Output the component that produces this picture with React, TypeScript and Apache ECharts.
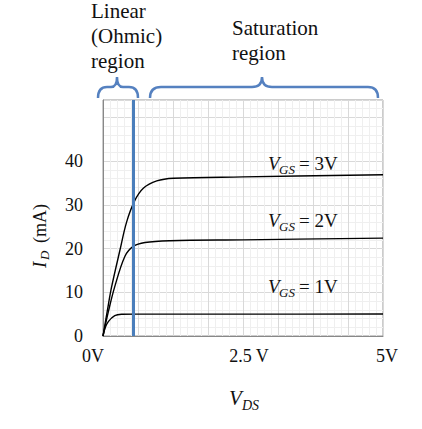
import React, { useEffect, useRef } from "react";
import * as echarts from "echarts";

// Drain current I_D (mA) vs V_DS (V) for three gate voltages
const vds3 = [0, 0.08, 0.15, 0.3, 0.42, 0.56, 0.72, 0.96, 1.26, 2.5, 5];
const id3 = [0, 6, 11, 19.5, 26, 30.8, 33.8, 35.5, 36.1, 36.4, 36.9];

const vds2 = [0, 0.1, 0.21, 0.39, 0.54, 0.75, 1.2, 2.5, 5];
const id2 = [0, 5.8, 11.3, 18.2, 20.5, 21.4, 21.8, 22.0, 22.4];

const vds1 = [0, 0.036, 0.095, 0.21, 0.33, 0.6, 2.5, 5];
const id1 = [0, 1.8, 3.3, 4.65, 4.97, 5.0, 5.0, 5.05];

const boundaryVds = 0.54; // linear / saturation boundary (blue line)

const xTickValues = [0, 2.5, 5];
const xTickLabels = ["0V", "2.5 V", "5V"];
const yTickLabels = [0, 10, 20, 30, 40];

const curveLabels = [
  { sub: "GS", rest: "= 3V", y: 170 },
  { sub: "GS", rest: "= 2V", y: 227 },
  { sub: "GS", rest: "= 1V", y: 293 },
];

const braceD =
  "M98 98 Q98 87 107 87 L111 87 Q117 87 117 77 Q117 87 123 87 L129 87 Q138 87 138 98 " +
  "M150 98 Q150 87 161 87 L252 87 Q262 87 262 77 Q262 87 272 87 L368 87 Q378 87 378 98";

echarts.graphic.registerShape("braces", echarts.graphic.extendPath(braceD, {}) as any);

const FONT = "'Liberation Serif', 'Times New Roman', serif";

function zip(xs: number[], ys: number[]) {
  return xs.map((x, i) => [x, ys[i]]);
}

export default function App() {
  const ref = useRef<HTMLDivElement>(null);
  useEffect(() => {
    if (!ref.current) return;
    const chart = echarts.init(ref.current, undefined, { renderer: "svg" });

    const mid = (baseline: number, fs: number) => baseline - 0.34 * fs;
    const txt = (x: number, y: number, text: string, size: number, italic: boolean) => ({
      type: "text",
      x,
      y,
      z: 100,
      style: {
        text,
        fontFamily: FONT,
        fontSize: size,
        fontStyle: italic ? "italic" : "normal",
        fill: "#111",
        verticalAlign: "middle",
      },
    });

    const graphics: any[] = [
      {
        type: "braces",
        x: 0,
        y: 0,
        z: 100,
        style: { stroke: "#5581c0", fill: "none", lineWidth: 2.5 },
        silent: true,
      },
      {
        type: "text",
        x: 91,
        y: -2,
        z: 100,
        style: {
          text: "Linear\n(Ohmic)\nregion",
          fontFamily: FONT,
          fontSize: 21,
          lineHeight: 25,
          fill: "#111",
          verticalAlign: "top",
        },
      },
      {
        type: "text",
        x: 232,
        y: 15,
        z: 100,
        style: {
          text: "Saturation\nregion",
          fontFamily: FONT,
          fontSize: 21,
          lineHeight: 25,
          fill: "#111",
          verticalAlign: "top",
        },
      },
      // y-axis title I_D (mA), rotated
      {
        type: "group",
        x: 46,
        y: 268,
        rotation: Math.PI / 2,
        z: 100,
        children: [
          txt(0, mid(0, 19), "I", 19, true),
          txt(8, mid(3, 13), "D", 13, true),
          txt(25, mid(0, 18), "(mA)", 18, false),
        ],
      },
      // x-axis title V_DS
      txt(229, mid(405, 21), "V", 21, true),
      txt(242, mid(410, 14), "DS", 14, true),
    ];

    curveLabels.forEach((c) => {
      graphics.push(
        txt(268, mid(c.y, 19), "V", 19, true),
        txt(279, mid(c.y + 4, 13), c.sub, 13, true),
        txt(299, mid(c.y, 19), c.rest, 19, false)
      );
    });

    const lineSeries = (data: number[][], withMark: boolean) => ({
      type: "line",
      data,
      smooth: 0.35,
      showSymbol: false,
      symbol: "none",
      lineStyle: { color: "#000", width: 1.4 },
      z: 3,
      ...(withMark
        ? {
            markLine: {
              silent: true,
              symbol: "none",
              label: { show: false },
              lineStyle: { color: "#4a7ebb", width: 3, type: "solid" },
              data: [{ xAxis: boundaryVds }],
              z: 5,
            },
          }
        : {}),
    });

    const richStyle = (pad: number[]) => ({
      fontFamily: FONT,
      fontSize: 18,
      color: "#111",
      padding: pad,
    });

    chart.setOption({
      animation: false,
      grid: {
        left: 103,
        top: 100,
        right: 39,
        bottom: 93,
        show: true,
        borderColor: "#999",
        borderWidth: 1,
        backgroundColor: "transparent",
      },
      xAxis: {
        type: "value",
        min: 0,
        max: 5,
        interval: 0.625,
        axisLine: { show: true, lineStyle: { color: "#888", width: 1 } },
        axisTick: { show: false },
        splitLine: { show: true, lineStyle: { color: "#d9d9d9", width: 1 } },
        minorTick: { show: false, splitNumber: 5 },
        minorSplitLine: { show: true, lineStyle: { color: "#efefef", width: 1 } },
        axisLabel: {
          showMinLabel: true,
          showMaxLabel: true,
          margin: 11,
          fontFamily: FONT,
          fontSize: 18,
          color: "#111",
          formatter: (v: number) => {
            const i = xTickValues.findIndex((t) => Math.abs(t - v) < 1e-6);
            if (i < 0) return "";
            const key = ["a", "b", "c"][i];
            return `{${key}|${xTickLabels[i]}}`;
          },
          rich: {
            a: richStyle([0, 20, 0, 0]),
            b: richStyle([0, 0, 0, 12]),
            c: richStyle([0, 0, 0, 8]),
          },
        },
      },
      yAxis: {
        type: "value",
        min: 0,
        max: 54,
        interval: 10,
        axisLine: { show: true, lineStyle: { color: "#888", width: 1 } },
        axisTick: { show: false },
        splitLine: { show: true, lineStyle: { color: "#d9d9d9", width: 1 } },
        minorTick: { show: false, splitNumber: 5 },
        minorSplitLine: { show: true, lineStyle: { color: "#efefef", width: 1 } },
        axisLabel: {
          margin: 20,
          color: "#111",
          fontFamily: FONT,
          fontSize: 18,
          formatter: (v: number) => (yTickLabels.includes(v) ? String(v) : ""),
        },
      },
      series: [
        lineSeries(zip(vds3, id3), true),
        lineSeries(zip(vds2, id2), false),
        lineSeries(zip(vds1, id1), false),
      ],
      graphic: graphics,
    });

    return () => chart.dispose();
  }, []);

  return (
    <div
      ref={ref}
      style={{ position: "fixed", left: 0, top: 0, width: 422, height: 429, background: "#fff" }}
    />
  );
}
